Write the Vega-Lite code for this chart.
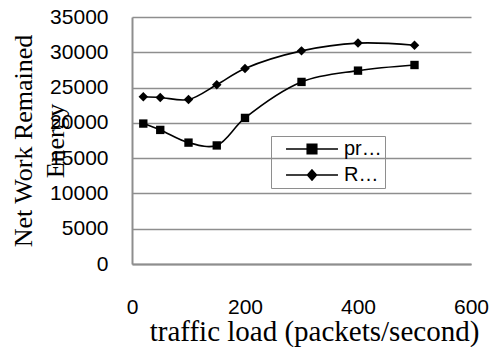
{
  "$schema": "https://vega.github.io/schema/vega-lite/v6.json",
  "autosize": "none",
  "width": 339,
  "height": 247,
  "padding": {"left": 132, "top": 17, "right": 22, "bottom": 83},
  "background": "white",
  "data": {
    "values": [
      {"load": 20, "energy": 19900, "series": "proposed"},
      {"load": 50, "energy": 19000, "series": "proposed"},
      {"load": 100, "energy": 17200, "series": "proposed"},
      {"load": 150, "energy": 16800, "series": "proposed"},
      {"load": 200, "energy": 20700, "series": "proposed"},
      {"load": 300, "energy": 25800, "series": "proposed"},
      {"load": 400, "energy": 27400, "series": "proposed"},
      {"load": 500, "energy": 28200, "series": "proposed"},
      {"load": 20, "energy": 23700, "series": "Reference"},
      {"load": 50, "energy": 23600, "series": "Reference"},
      {"load": 100, "energy": 23300, "series": "Reference"},
      {"load": 150, "energy": 25400, "series": "Reference"},
      {"load": 200, "energy": 27700, "series": "Reference"},
      {"load": 300, "energy": 30200, "series": "Reference"},
      {"load": 400, "energy": 31300, "series": "Reference"},
      {"load": 500, "energy": 31000, "series": "Reference"}
    ]
  },
  "encoding": {
    "x": {
      "field": "load", "type": "quantitative",
      "scale": {"domain": [0, 600], "nice": false},
      "axis": {
        "title": "traffic load (packets/second)",
        "values": [0, 200, 400, 600],
        "grid": false, "ticks": false,
        "domainColor": "#8e8e8e", "domainWidth": 2,
        "labelFont": "Liberation Sans", "labelFontSize": 21, "labelColor": "black",
        "labelPadding": 32,
        "titleFont": "Liberation Serif", "titleFontSize": 29, "titleFontWeight": "normal", "titleColor": "black",
        "titleAlign": "center", "titleX": 182,
        "titlePadding": 0
      }
    },
    "y": {
      "field": "energy", "type": "quantitative",
      "scale": {"domain": [0, 35000], "nice": false},
      "axis": {
        "title": ["Net Work Remained", "Energy"],
        "values": [0, 5000, 10000, 15000, 20000, 25000, 30000, 35000],
        "format": "d",
        "grid": true, "gridColor": "#8e8e8e", "gridWidth": 1.5,
        "ticks": false,
        "domainColor": "#8e8e8e", "domainWidth": 2,
        "labelFont": "Liberation Sans", "labelFontSize": 21, "labelColor": "black",
        "labelPadding": 24,
        "titleFont": "Liberation Serif", "titleFontSize": 26, "titleFontWeight": "normal", "titleColor": "black",
        "titleAngle": -90, "titleAlign": "center", "titleBaseline": "middle",
        "titleLineHeight": 32,
        "titleX": -109, "titleY": 123.5
      }
    }
  },
  "layer": [
    {
      "mark": {"type": "line", "interpolate": "catmull-rom", "color": "black", "strokeWidth": 1.6},
      "encoding": {"detail": {"field": "series"}}
    },
    {
      "mark": {"type": "point", "filled": true, "color": "black", "opacity": 1},
      "encoding": {
        "shape": {
          "field": "series", "type": "nominal",
          "scale": {"domain": ["proposed", "Reference"], "range": ["square", "diamond"]},
          "legend": null
        },
        "size": {
          "field": "series", "type": "nominal",
          "scale": {"domain": ["proposed", "Reference"], "range": [70, 90]},
          "legend": null
        }
      }
    },
    {
      "transform": [{"filter": "datum.load < 0"}],
      "mark": {"type": "point", "filled": true, "fill": "black", "stroke": "black", "strokeWidth": 1.5, "opacity": 1},
      "encoding": {
        "shape": {
          "field": "series", "type": "nominal",
          "scale": {
            "domain": ["proposed", "Reference"],
            "range": [
              "M-4.33,0H4.33M-0.8,-0.8H0.8V0.8H-0.8Z",
              "M-4.33,0H4.33M0,-0.85L0.75,0L0,0.85L-0.75,0Z"
            ]
          },
          "legend": {
            "title": null,
            "orient": "none",
            "legendX": 139,
            "legendY": 119,
            "symbolSize": 144,
            "symbolOffset": 28,
            "symbolFillColor": "black",
            "symbolOpacity": 1,
            "labelFont": "Liberation Sans",
            "labelFontSize": 20,
            "labelColor": "black",
            "labelLimit": 40,
            "labelOffset": 22,
            "rowPadding": 6,
            "padding": 3,
            "strokeColor": "#8e8e8e",
            "encode": {
              "legend": {"update": {"strokeWidth": {"value": 1.5}}},
              "symbols": {"update": {"stroke": {"value": "black"}, "strokeWidth": {"value": 1.5}, "fill": {"value": "black"}}}
            }
          }
        }
      }
    }
  ],
  "resolve": {"scale": {"shape": "independent", "size": "independent"}},
  "config": {
    "view": {"stroke": null},
    "axis": {"labelFlush": false, "labelOverlap": false}
  }
}
